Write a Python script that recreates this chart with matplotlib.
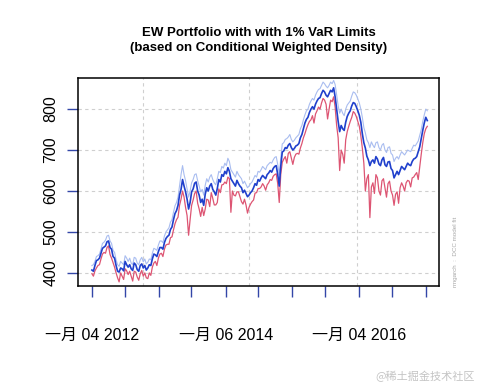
"""EW portfolio with 1% VaR limits (rmgarch DCC fit) - recreated chart."""
import numpy as np
import pandas as pd
import matplotlib
matplotlib.use("Agg")
import matplotlib.pyplot as plt

# ---- data (one sample every ~8 days) ----
START = "2012-01-04"
END = "2017-01-10"

portfolio = [407, 404, 418, 430, 432, 436, 448, 460, 463, 466, 476, 478, 462, 458, 440, 436, 418, 404, 402, 412,
             410, 405, 428, 420, 414, 420, 410, 406, 424, 420, 408, 404, 418, 422, 412, 418, 407, 412, 420, 418,
             434, 446, 444, 440, 452, 462, 462, 458, 474, 484, 489, 492, 506, 512, 530, 545, 552, 565, 590, 604,
             628, 612, 598, 580, 556, 572, 598, 605, 619, 622, 600, 590, 572, 580, 565, 592, 608, 600, 612, 618,
             604, 598, 590, 606, 628, 622, 640, 636, 648, 642, 657, 648, 630, 624, 618, 612, 626, 618, 612, 608,
             596, 602, 594, 586, 590, 596, 600, 608, 618, 614, 628, 624, 632, 638, 634, 630, 640, 644, 650, 646,
             655, 660, 662, 640, 612, 660, 695, 698, 706, 704, 712, 716, 706, 700, 704, 710, 712, 716, 730, 738,
             752, 766, 775, 780, 792, 800, 806, 800, 812, 820, 826, 828, 838, 846, 842, 834, 830, 838, 846, 842,
             852, 830, 800, 770, 745, 760, 752, 748, 768, 782, 790, 796, 808, 816, 814, 806, 796, 785, 768, 740,
             718, 705, 685, 676, 662, 672, 676, 668, 684, 678, 666, 662, 676, 682, 664, 660, 671, 672, 655, 650,
             632, 640, 648, 640, 650, 660, 656, 652, 660, 668, 664, 662, 672, 678, 680, 684, 696, 708, 728, 748,
             766, 780, 772]

upper = [418, 420, 428, 440, 442, 446, 458, 472, 475, 480, 490, 492, 478, 472, 455, 450, 432, 420, 416, 428,
         424, 420, 442, 436, 428, 436, 424, 420, 438, 436, 424, 420, 432, 438, 427, 434, 422, 426, 434, 432,
         448, 460, 458, 455, 468, 478, 478, 474, 490, 500, 505, 510, 524, 530, 548, 564, 572, 585, 612, 640,
         662, 640, 625, 605, 585, 600, 620, 628, 640, 642, 625, 612, 598, 604, 590, 614, 630, 622, 634, 640,
         628, 620, 615, 630, 648, 645, 660, 656, 668, 662, 680, 672, 652, 646, 640, 634, 648, 640, 635, 630,
         618, 624, 616, 608, 612, 618, 622, 630, 638, 634, 648, 646, 652, 660, 656, 652, 662, 666, 670, 668,
         676, 682, 684, 665, 640, 680, 715, 718, 726, 728, 732, 738, 726, 720, 724, 730, 734, 738, 752, 760,
         774, 786, 796, 800, 812, 820, 826, 822, 834, 842, 848, 850, 858, 866, 862, 856, 852, 858, 866, 862,
         870, 860, 835, 808, 790, 800, 790, 784, 800, 810, 815, 820, 832, 842, 840, 834, 825, 815, 800, 780,
         755, 742, 725, 718, 706, 720, 712, 706, 718, 720, 706, 700, 712, 716, 700, 694, 706, 708, 692, 688,
         672, 680, 684, 678, 688, 696, 692, 688, 694, 700, 698, 696, 704, 712, 710, 716, 722, 736, 750, 770,
         786, 800, 796]

var_1pct = [398, 392, 405, 412, 418, 420, 434, 446, 450, 448, 462, 466, 445, 436, 425, 414, 400, 388, 378, 400,
            392, 384, 410, 405, 396, 404, 392, 380, 404, 402, 390, 382, 398, 406, 392, 400, 388, 386, 400, 394,
            414, 424, 428, 418, 436, 446, 448, 440, 458, 468, 470, 470, 486, 488, 505, 520, 530, 536, 565, 580,
            600, 585, 560, 540, 492, 530, 565, 578, 594, 600, 570, 556, 538, 560, 540, 556, 580, 578, 562, 596,
            582, 566, 566, 572, 605, 596, 615, 616, 622, 618, 634, 630, 548, 600, 590, 588, 598, 598, 586, 574,
            568, 580, 566, 546, 560, 568, 574, 578, 595, 596, 606, 606, 610, 618, 612, 602, 615, 620, 628, 626,
            636, 640, 642, 618, 572, 640, 670, 678, 684, 668, 692, 696, 680, 665, 682, 690, 692, 690, 705, 716,
            730, 740, 752, 762, 770, 774, 784, 766, 788, 796, 805, 800, 815, 826, 822, 812, 776, 800, 822, 818,
            830, 805, 760, 730, 650, 700, 690, 668, 725, 745, 758, 770, 780, 794, 790, 782, 770, 758, 735, 705,
            668, 600, 630, 640, 535, 610, 620, 594, 640, 632, 600, 590, 625, 630, 608, 585, 618, 624, 600, 590,
            565, 592, 598, 570, 608, 620, 612, 600, 620, 626, 624, 610, 632, 634, 640, 645, 628, 660, 690, 718,
            740, 752, 758]

tick_dates = ["2012-01-04", "2012-07-02", "2013-01-02", "2013-07-01",
              "2014-01-06", "2014-07-01", "2015-01-02", "2015-07-01",
              "2016-01-04", "2016-07-01", "2017-01-03"]
tick_labels = ["一月 04 2012", "", "", "", "一月 06 2014", "", "", "",
               "一月 04 2016", "", ""]
vgrid_dates = ["2012-10-09", "2014-05-12", "2015-12-23"]
y_ticks = [400, 500, 600, 700, 800]

dates = pd.date_range(START, END, periods=len(portfolio))

plt.rcParams["font.family"] = ["Liberation Sans", "Noto Sans CJK SC", "DejaVu Sans"]

fig = plt.figure(figsize=(4.8, 3.84), dpi=100)
ax = fig.add_axes([78 / 480, 1 - 286 / 384, 361 / 480, 208 / 384])

grid_kw = dict(color="#cfcfcf", lw=0.8, ls=(0, (3, 3)), zorder=0)
for y in y_ticks:
    ax.axhline(y, **grid_kw)
for d in pd.to_datetime(vgrid_dates):
    ax.axvline(d, **grid_kw)

ax.plot(dates, upper, color="#a9bdf0", lw=0.8, zorder=2)
ax.plot(dates, var_1pct, color="#dd5573", lw=0.9, zorder=3)
ax.plot(dates, portfolio, color="#2040cc", lw=1.2, zorder=4)

ax.set_xlim(pd.Timestamp("2011-10-20"), pd.Timestamp("2017-03-15"))
ax.set_ylim(368, 876)

ax.set_xticks(pd.to_datetime(tick_dates))
ax.set_xticklabels(tick_labels, fontsize=11.5)
ax.set_yticks(y_ticks)
ax.set_yticklabels([str(v) for v in y_ticks], fontsize=11.5, rotation=90, va="center")
ax.tick_params(axis="x", direction="out", length=8, width=1.0, color="#3347a8", pad=22)
ax.tick_params(axis="y", direction="out", length=8, width=1.0, color="#3347a8", pad=6)

for s in ax.spines.values():
    s.set_linewidth(1.1)
    s.set_color("black")

fig.text(258.5 / 480, 1 - 33 / 384, "EW Portfolio with with 1% VaR Limits",
         ha="center", va="center", fontsize=9.5, fontweight="bold")
fig.text(258.5 / 480, 1 - 48 / 384, "(based on Conditional Weighted Density)",
         ha="center", va="center", fontsize=9.5, fontweight="bold")

fig.text(455 / 480, 1 - 287 / 384, "rmgarch  :  DCC model fit", rotation=90,
         ha="center", va="bottom", fontsize=4.5, color="#a8a8a8")
fig.text(475 / 480, 1 - 376 / 384, "@稀土掘金技术社区", ha="right", va="center",
         fontsize=8, color="#c4c4c4", family=["Noto Sans CJK SC", "DejaVu Sans"])

fig.savefig("out.png", dpi=100)
